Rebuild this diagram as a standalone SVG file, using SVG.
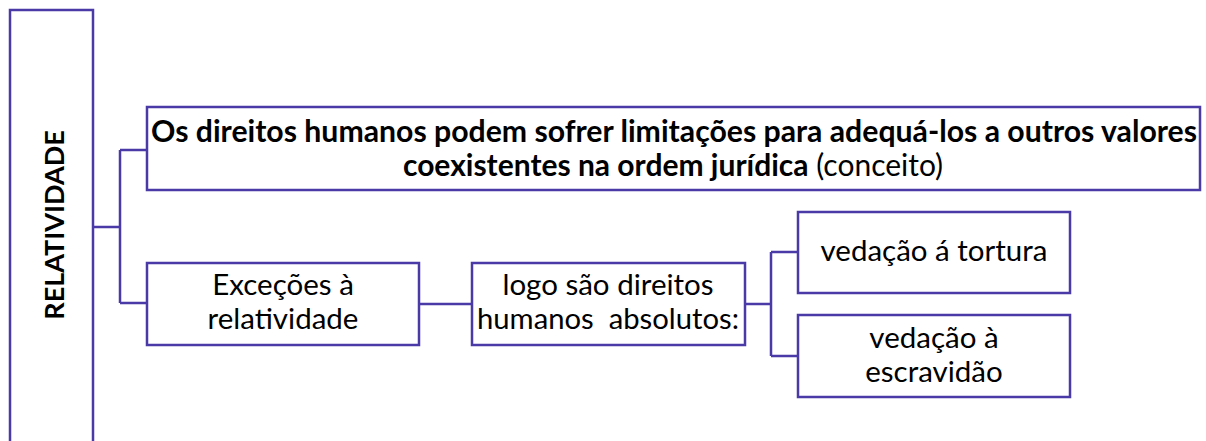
<svg xmlns="http://www.w3.org/2000/svg" width="1206" height="441" viewBox="0 0 1206 441">
<style>
.box{fill:#fff;stroke:#4a3aa8;stroke-width:2.5}
.conn{fill:none;stroke:#4a3aa8;stroke-width:2.5}
text{font-family:Lato,"Liberation Sans",sans-serif;fill:#000;font-size:29.5px}
.c{text-anchor:middle}
.b{font-weight:bold}
.t1{font-size:30px}
.pre{white-space:pre}
</style>
<rect width="1206" height="441" fill="#fff"/>
<g id="connectors">
<path class="conn" d="M93,227 H120 M120,150 V303 M120,150 H147 M120,303 H147"/>
<path class="conn" d="M419,304 H472"/>
<path class="conn" d="M745,304 H771 M771,252 V356 M771,252 H798 M771,356 H798"/>
</g>
<g id="relatividade">
<rect class="box" x="10" y="10" width="83" height="445"/>
<text class="c b" style="font-size:27px" transform="translate(64,225) rotate(-90)">RELATIVIDADE</text>
</g>
<g id="conceito">
<rect class="box" x="147" y="107" width="1053" height="83"/>
<text class="c b t1" x="674" y="142" textLength="1046" lengthAdjust="spacingAndGlyphs">Os direitos humanos podem sofrer limitações para adequá-los a outros valores</text>
<text class="c t1" x="673" y="176"><tspan class="b">coexistentes na ordem jurídica</tspan> (conceito)</text>
</g>
<g id="excecoes">
<rect class="box" x="147" y="263" width="272" height="82"/>
<text class="c" x="283" y="295">Exceções à</text>
<text class="c" x="283" y="329">relatividade</text>
</g>
<g id="absolutos">
<rect class="box" x="472" y="263" width="273" height="82"/>
<text class="c" x="608" y="295">logo são direitos</text>
<text class="c pre" x="608" y="329" textLength="262" lengthAdjust="spacingAndGlyphs">humanos  absolutos:</text>
</g>
<g id="tortura">
<rect class="box" x="798" y="212" width="272" height="81"/>
<text class="c" x="934" y="261">vedação á tortura</text>
</g>
<g id="escravidao">
<rect class="box" x="798" y="315" width="272" height="82"/>
<text class="c" x="934" y="348">vedação à</text>
<text class="c" x="934" y="382">escravidão</text>
</g>
</svg>
